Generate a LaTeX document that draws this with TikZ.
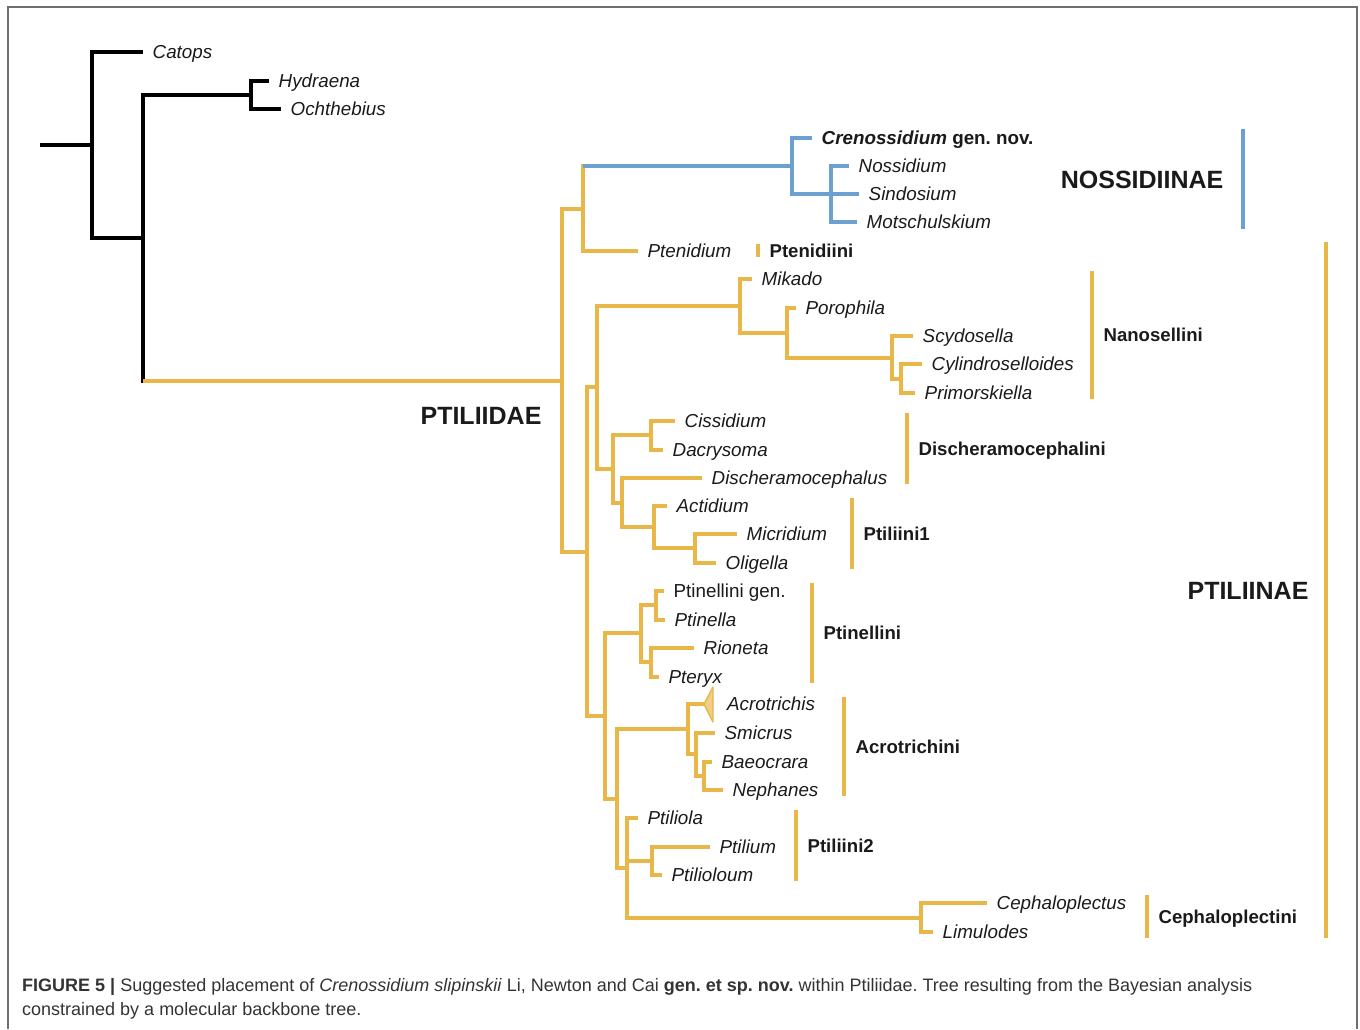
\documentclass[tikz,border=0pt]{standalone}
\usepackage{fontspec}
\setmainfont{Liberation Sans}
\frenchspacing
\definecolor{ptilyellow}{HTML}{E8B649}
\definecolor{ptilfan}{HTML}{EFCF86}
\definecolor{nossblue}{HTML}{6BA0D0}
\definecolor{inkgray}{HTML}{1A1A1A}
\definecolor{framegray}{HTML}{6E6E6E}

\begin{document}
\begin{tikzpicture}[
  x=1pt, y=-1pt,
  branch/.style = {draw=ptilyellow, line width=3.2pt},
  outbranch/.style = {draw=black, line width=3.2pt},
  nossbranch/.style = {draw=nossblue, line width=3.2pt},
  groupbar/.style = {draw=ptilyellow, line width=3.2pt},
  nossbar/.style = {draw=nossblue, line width=3.2pt},
  taxon/.style = {anchor=west, inner xsep=9.5pt, inner ysep=0pt,
    text height=13.5pt, text depth=0pt, text=inkgray,
    font=\fontsize{18.8}{22}\selectfont\itshape},
  plaintaxon/.style = {taxon, font=\fontsize{18.8}{22}\selectfont},
  tribe/.style = {anchor=west, inner xsep=10pt, inner ysep=0pt,
    text height=13.5pt, text depth=0pt, text=inkgray,
    font=\fontsize{18.6}{22}\selectfont\bfseries},
  subfam/.style = {tribe, text height=18pt,
    font=\fontsize{25}{30}\selectfont\bfseries},
  figcaption/.style = {anchor=base west, inner sep=0pt, text=black!80,
    font=\fontsize{18}{24}\selectfont}
  ]
  \useasboundingbox (0,0) rectangle (1360,1029);
  \draw[framegray, line width=1.5pt] (8,1029) |- (1357,7) -- (1357,1029);

  % outgroups
  \node[taxon] (Catops) at (143,52) {Catops};
  \node[taxon] (Hydraena) at (269,81) {Hydraena};
  \node[taxon] (Ochthebius) at (281,109) {Ochthebius};
  \coordinate (base) at (40,145);
  \coordinate (nRoot) at (92,145);
  \coordinate (nOut2) at (143,238);
  \coordinate (nHyd) at (251,95);
  \draw[outbranch] (base) -- (nRoot);
  \draw[outbranch] (nRoot) |- (Catops.west) (nRoot) |- (nOut2);
  \draw[outbranch] (nOut2) |- (nHyd);
  \draw[outbranch] (nHyd) |- (Hydraena.west) (nHyd) |- (Ochthebius.west);

  % Ptiliidae
  \coordinate (nPtiliidae) at (562,381);
  \draw[outbranch, line cap=rect] (nOut2) -- (nOut2 |- nPtiliidae);
  \draw[branch] (nOut2 |- nPtiliidae) -- (nPtiliidae);
  \node[subfam, anchor=center, inner xsep=0pt] (lblPtiliidae) at (481,415) {PTILIIDAE};

  % Nossidiinae + Ptenidium
  \coordinate (nA) at (583,209);
  \coordinate (nNoss) at (792,166);
  \coordinate (nNoss2) at (831,194);
  \node[taxon] (Crenossidium) at (812,138) {\textbf{Crenossidium}\upshape\bfseries{} gen. nov.};
  \node[taxon] (Nossidium) at (849,166) {Nossidium};
  \node[taxon] (Sindosium) at (859,194) {Sindosium};
  \node[taxon] (Motschulskium) at (857,222) {Motschulskium};
  \node[taxon] (Ptenidium) at (638,251) {Ptenidium};
  \draw[branch] (nPtiliidae) |- (nA);
  \draw[branch, line cap=rect] (nA) -- (nA |- nNoss);
  \draw[nossbranch] (nA |- nNoss) -- (nNoss);
  \draw[branch] (nA) |- (Ptenidium.west);
  \draw[nossbranch] (nNoss) |- (Crenossidium.west) (nNoss) |- (nNoss2);
  \draw[nossbranch] (nNoss2) |- (Nossidium.west) (nNoss2) -- (Sindosium.west)
    (nNoss2) |- (Motschulskium.west);
  \draw[nossbar] (1243,129) -- (1243,229)
    node[midway, subfam, anchor=east, inner xsep=18pt] (lblNoss) {NOSSIDIINAE};
  \draw[groupbar] (758,244) -- (758,257)
    node[midway, tribe] (lblPtenid) {Ptenidiini};

  % Ptiliinae
  \coordinate (nB) at (587,552);
  \coordinate (nC) at (597,387);
  \draw[branch] (nPtiliidae) |- (nB);
  \draw[branch] (nB) |- (nC);

  % Nanosellini
  \coordinate (nNano) at (740,306);
  \coordinate (nNano2) at (787,333);
  \coordinate (nNano3) at (892,358);
  \coordinate (nNano4) at (901,379);
  \node[taxon] (Mikado) at (752,279) {Mikado};
  \node[taxon] (Porophila) at (796,308) {Porophila};
  \node[taxon] (Scydosella) at (913,336) {Scydosella};
  \node[taxon] (Cylindroselloides) at (922,364) {Cylindroselloides};
  \node[taxon] (Primorskiella) at (915,393) {Primorskiella};
  \draw[branch] (nC) |- (nNano);
  \draw[branch] (nNano) |- (Mikado.west) (nNano) |- (nNano2);
  \draw[branch] (nNano2) |- (Porophila.west) (nNano2) |- (nNano3);
  \draw[branch] (nNano3) |- (Scydosella.west) (nNano3) |- (nNano4);
  \draw[branch] (nNano4) |- (Cylindroselloides.west) (nNano4) |- (Primorskiella.west);
  \draw[groupbar] (1092,271) -- (1092,399)
    node[midway, tribe] (lblNano) {Nanosellini};

  % Discheramocephalini + Ptiliini1
  \coordinate (nD) at (613,469);
  \coordinate (nCiss) at (651,435);
  \coordinate (nE) at (622,503);
  \coordinate (nF) at (654,527);
  \coordinate (nMicr) at (695,548);
  \node[taxon] (Cissidium) at (675,421) {Cissidium};
  \node[taxon] (Dacrysoma) at (663,450) {Dacrysoma};
  \node[taxon] (Discheramocephalus) at (702,478) {Discheramocephalus};
  \node[taxon] (Actidium) at (667,506) {Actidium};
  \node[taxon] (Micridium) at (737,534) {Micridium};
  \node[taxon] (Oligella) at (716,563) {Oligella};
  \draw[branch] (nC) |- (nD);
  \draw[branch] (nD) |- (nCiss) (nD) |- (nE);
  \draw[branch] (nCiss) |- (Cissidium.west) (nCiss) |- (Dacrysoma.west);
  \draw[branch] (nE) |- (Discheramocephalus.west) (nE) |- (nF);
  \draw[branch] (nF) |- (Actidium.west) (nF) |- (nMicr);
  \draw[branch] (nMicr) |- (Micridium.west) (nMicr) |- (Oligella.west);
  \draw[groupbar] (907,413) -- (907,484)
    node[midway, tribe] (lblDisch) {Discheramocephalini};
  \draw[groupbar] (852,498) -- (852,569)
    node[midway, tribe] (lblPtil1) {Ptiliini1};

  % Ptinellini
  \coordinate (nG) at (605,716);
  \coordinate (nPtin) at (641,633);
  \coordinate (nPtin2) at (656,605);
  \coordinate (nRion) at (651,662);
  \node[plaintaxon] (PtinelliniGen) at (664,591) {Ptinellini gen.};
  \node[taxon] (Ptinella) at (665,620) {Ptinella};
  \node[taxon] (Rioneta) at (694,648) {Rioneta};
  \node[taxon] (Pteryx) at (659,677) {Pteryx};
  \draw[branch] (nB) |- (nG);
  \draw[branch] (nG) |- (nPtin);
  \draw[branch] (nPtin) |- (nPtin2) (nPtin) |- (nRion);
  \draw[branch] (nPtin2) |- (PtinelliniGen.west) (nPtin2) |- (Ptinella.west);
  \draw[branch] (nRion) |- (Rioneta.west) (nRion) |- (Pteryx.west);
  \draw[groupbar] (812,583) -- (812,683)
    node[midway, tribe] (lblPtin) {Ptinellini};

  % Acrotrichini
  \coordinate (nH) at (617,799);
  \coordinate (nAcro) at (688,729);
  \coordinate (nAcro2) at (696,754);
  \coordinate (nAcro3) at (704,776);
  \coordinate (acroTip) at (704,704);
  \node[taxon] (Acrotrichis) at (717.5,704) {Acrotrichis};
  \node[taxon] (Smicrus) at (715,733) {Smicrus};
  \node[taxon] (Baeocrara) at (712,762) {Baeocrara};
  \node[taxon] (Nephanes) at (723,790) {Nephanes};
  \draw[branch] (nG) |- (nH);
  \draw[branch] (nH) |- (nAcro);
  \draw[branch] (nAcro) |- (acroTip) (nAcro) |- (nAcro2);
  \filldraw[fill=ptilfan, draw=ptilyellow, line width=1.4pt, line join=round]
    (acroTip) -- ++(9,-17) -- ++(0,35) -- cycle;
  \draw[branch] (nAcro2) |- (Smicrus.west) (nAcro2) |- (nAcro3);
  \draw[branch] (nAcro3) |- (Baeocrara.west) (nAcro3) |- (Nephanes.west);
  \draw[groupbar] (844,697) -- (844,796)
    node[midway, tribe] (lblAcro) {Acrotrichini};

  % Ptiliini2 + Cephaloplectini
  \coordinate (nI) at (627,868);
  \coordinate (nPtil) at (652,861);
  \coordinate (nCeph) at (921,918);
  \node[taxon] (Ptiliola) at (638,818) {Ptiliola};
  \node[taxon] (Ptilium) at (710,847) {Ptilium};
  \node[taxon] (Ptilioloum) at (662,875) {Ptilioloum};
  \node[taxon] (Cephaloplectus) at (987,903) {Cephaloplectus};
  \node[taxon] (Limulodes) at (933,932) {Limulodes};
  \draw[branch] (nH) |- (nI);
  \draw[branch] (nI) |- (Ptiliola.west) (nI) |- (nPtil) (nI) |- (nCeph);
  \draw[branch] (nPtil) |- (Ptilium.west) (nPtil) |- (Ptilioloum.west);
  \draw[branch] (nCeph) |- (Cephaloplectus.west) (nCeph) |- (Limulodes.west);
  \draw[groupbar] (796,810) -- (796,881)
    node[midway, tribe] (lblPtil2) {Ptiliini2};
  \draw[groupbar] (1147,895) -- (1147,938)
    node[midway, tribe] (lblCeph) {Cephaloplectini};
  \draw[groupbar] (1326,242) -- (1326,938)
    node[midway, subfam, anchor=east, inner xsep=16pt] (lblPtiliinae) {PTILIINAE};

  % caption
  \node[figcaption] (capLineA) at (22,991.5) {\textbf{FIGURE 5 |} Suggested placement of \textit{Crenossidium slipinskii} Li, Newton and Cai \textbf{gen. et sp. nov.} within Ptiliidae. Tree resulting from the Bayesian analysis};
  \node[figcaption] (capLineB) at (22,1015.5) {constrained by a molecular backbone tree.};
\end{tikzpicture}
\end{document}
